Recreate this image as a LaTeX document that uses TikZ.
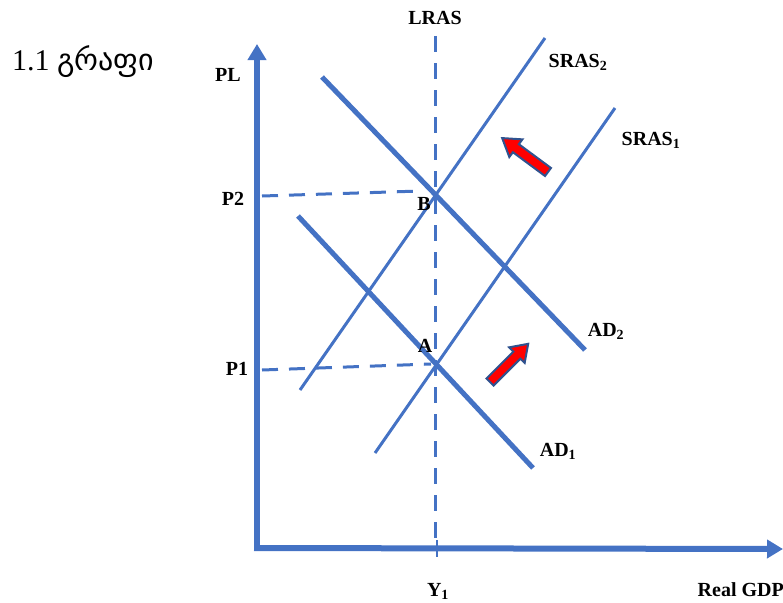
\documentclass[tikz,border=0pt]{standalone}
\usepackage{fontspec}
\setmainfont{Liberation Serif}
\newfontfamily\geofont{DejaVu Sans}
\usetikzlibrary{arrows.meta}
\definecolor{lineblue}{HTML}{4472C4}
\definecolor{darkblue}{HTML}{2F528F}
\tikzset{
  axisline/.style={lineblue, line width=6pt, -{Triangle[length=16pt,width=18pt]}},
  adline/.style={lineblue, line width=5pt},
  srasline/.style={lineblue, line width=3pt},
  guide/.style={lineblue, line width=3pt, dash pattern=on 16pt off 11pt},
  lbl/.style={font=\fontsize{20}{20}\selectfont\bfseries, inner sep=0pt},
  redarrow/.style={fill=red, draw=darkblue, line width=2pt, line join=miter}
}
\begin{document}
\begin{tikzpicture}[x=1pt,y=-1pt]
\useasboundingbox (0,0) rectangle (783,602);
% axes
\coordinate (O) at (257,548);
\coordinate (ytop) at (257,44);
\coordinate (xend) at (783,549);
\draw[axisline] (O) -- (ytop);
\draw[axisline] ([xshift=-3pt]O) -- (xend);
\draw[lineblue, line width=2.5pt] (437,540) -- (437,557);
% LRAS
\coordinate (lrastop) at (435,36);
\coordinate (lrasbot) at (435,548);
\draw[guide] (lrastop) -- (lrasbot);
% curves
\coordinate (ad2a) at (322,77); \coordinate (ad2b) at (585,350);
\coordinate (ad1a) at (298,216); \coordinate (ad1b) at (533,468);
\coordinate (s2a) at (300,390); \coordinate (s2b) at (545,38);
\coordinate (s1a) at (375,453); \coordinate (s1b) at (615,108);
\draw[srasline] (s2a) -- (s2b);
\draw[srasline] (s1a) -- (s1b);
\draw[adline] (ad2a) -- (ad2b);
\draw[adline] (ad1a) -- (ad1b);
% equilibrium points
\coordinate (B) at (435,196);
\coordinate (A) at (435,364);
\coordinate (p2l) at (262,196);
\coordinate (p1l) at (262,370);
\draw[guide] (p2l) -- ([xshift=-14pt,yshift=5pt]B);
\draw[guide] (p1l) -- ([xshift=-4pt]A);
% labels
\node[lbl] (lras) at (435,18) {LRAS};
\node[lbl] (pl) at (228,75) {PL};
\node[lbl] (p2) at (233,199) {P2};
\node[lbl] (p1) at (237,369) {P1};
\node[lbl] (bl) at (424,204) {B};
\node[lbl] (al) at (425,346) {A};
\node[lbl] (sras2) at (578,62) {SRAS\textsubscript{2}};
\node[lbl] (sras1) at (651,140) {SRAS\textsubscript{1}};
\node[lbl] (ad2) at (606,331) {AD\textsubscript{2}};
\node[lbl] (ad1) at (558,451) {AD\textsubscript{1}};
\node[lbl] (y1) at (438,591) {Y\textsubscript{1}};
\node[lbl, anchor=east] (gdp) at (784,590) {Real GDP};
\node[inner sep=0pt, anchor=west] (title) at (12,62) {\fontsize{30}{30}\selectfont 1.1 {\geofont გრაფი}};
% red arrows
\begin{scope}[shift={(548,172)}, rotate=143.5]
  \draw[redarrow] (0,-5) -- (40,-5) -- (40,-11) -- (57,0) -- (40,11) -- (40,5) -- (0,5) -- cycle;
\end{scope}
\begin{scope}[shift={(490,382)}, rotate=45]
  \draw[redarrow] (0,-5) -- (38,-5) -- (38,-11) -- (54,0) -- (38,11) -- (38,5) -- (0,5) -- cycle;
\end{scope}
\end{tikzpicture}
\end{document}
